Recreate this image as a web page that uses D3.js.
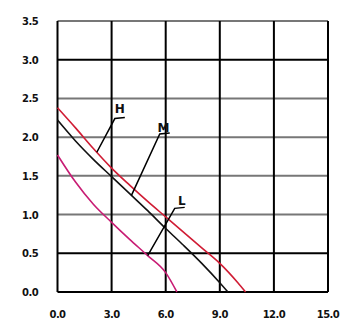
<!DOCTYPE html>
<html>
<head>
<meta charset="utf-8">
<script src="https://cdn.jsdelivr.net/npm/d3@7"></script>
<style>
  body { margin: 0; background: #fff; }
  text { font-family: "DejaVu Sans", sans-serif; font-weight: bold; fill: #111; }
</style>
</head>
<body>
<svg id="chart" width="353" height="333"></svg>
<script>
'use strict';

// axis ticks
var xTicks = [0, 3, 6, 9, 12, 15],
    yTicks = [0, 0.5, 1, 1.5, 2, 2.5, 3, 3.5],
    xTickLabels = ["0.0", "3.0", "6.0", "9.0", "12.0", "15.0"],
    yTickLabels = ["0.0", "0.5", "1.0", "1.5", "2.0", "2.5", "3.0", "3.5"];

// dark or light grid line per y tick
var yGridDark = [true, true, false, false, false, false, true, false];

// curves (flow, pressure)
var seriesNames = ["H", "M", "L"];
var hData = [[0, 2.38], [1, 2.12], [2, 1.85], [3, 1.6], [4, 1.38], [5, 1.17], [6, 0.97], [7, 0.77], [8, 0.57], [9, 0.37], [10, 0.12], [10.43, 0]];
var mData = [[0, 2.22], [1, 1.95], [2, 1.71], [3, 1.49], [4, 1.27], [5, 1.05], [6, 0.82], [7, 0.6], [8, 0.37], [9, 0.12], [9.45, 0]];
var lData = [[0, 1.77], [1, 1.42], [2, 1.13], [3, 0.9], [4, 0.68], [5, 0.47], [6, 0.25], [6.62, 0]];

// label anchors (data units) and where the leader meets the curve
var labelPos = [[3.46, 2.31], [5.87, 2.07], [6.89, 1.12]];
var leaderStart = [[3.18, 2.24], [5.67, 2.04], [6.5, 1.08]];
var leaderEndX = [2.18, 4.1, 5.0];

var svg = d3.select("#chart");

var x = d3.scaleLinear().domain([0, 15]).range([57.5, 328]),
    y = d3.scaleLinear().domain([0, 3.5]).range([292, 21]);

/* grid */
var grid = svg.append("g");
grid.selectAll("line.h")
  .data(yTicks)
  .enter().append("line")
  .attr("x1", x(0)).attr("x2", x(15))
  .attr("y1", function(d) { return y(d); })
  .attr("y2", function(d) { return y(d); })
  .style("stroke", function(d, i) { return yGridDark[i] ? "#000" : "#777"; })
  .style("stroke-width", 2);

grid.selectAll("line.v")
  .data(xTicks)
  .enter().append("line")
  .attr("y1", y(0)).attr("y2", y(3.5))
  .attr("x1", function(d) { return x(d); })
  .attr("x2", function(d) { return x(d); })
  .style("stroke", "#000")
  .style("stroke-width", 2);

/* tick labels */
svg.selectAll("text.yl")
  .data(yTicks)
  .enter().append("text")
  .attr("x", 38)
  .attr("y", function(d) { return y(d) + 4; })
  .attr("text-anchor", "end")
  .style("font-size", "10px")
  .style("letter-spacing", "-0.6px")
  .text(function(d, i) { return yTickLabels[i]; });

svg.selectAll("text.xl")
  .data(xTicks)
  .enter().append("text")
  .attr("x", function(d) { return x(d); })
  .attr("y", 318)
  .attr("text-anchor", "middle")
  .style("font-size", "10px")
  .style("letter-spacing", "-0.6px")
  .text(function(d, i) { return xTickLabels[i]; });

/* curves */
var line = d3.line()
  .x(function(d) { return x(d[0]); })
  .y(function(d) { return y(d[1]); })
  .curve(d3.curveMonotoneX);

var series = [
  { data: hData, color: "#d01c34" },
  { data: mData, color: "#111" },
  { data: lData, color: "#c81c74" }
];

svg.selectAll("path.curve")
  .data(series)
  .enter().append("path")
  .attr("d", function(d) { return line(d.data); })
  .style("fill", "none")
  .style("stroke", function(d) { return d.color; })
  .style("stroke-width", 1.6);

/* value on a series at flow v, linear between read points */
function valueAt(data, v) {
  for (var i = 1; i < data.length; i++) {
    if (v <= data[i][0]) {
      var a = data[i - 1], b = data[i], t = (v - a[0]) / (b[0] - a[0]);
      return a[1] + t * (b[1] - a[1]);
    }
  }
  return 0;
}

/* labels with leader lines */
seriesNames.forEach(function(name, i) {
  var s = leaderStart[i],
      ex = leaderEndX[i],
      ey = valueAt(series[i].data, ex),
      p0 = [x(s[0]) + 10, y(s[1]) - 1],
      p1 = [x(s[0]), y(s[1])],
      p2 = [x(ex), y(ey)];

  svg.append("path")
    .attr("d", "M" + p0 + "L" + p1 + "L" + p2)
    .style("fill", "none")
    .style("stroke", "#000")
    .style("stroke-width", 1.5);

  svg.append("text")
    .attr("x", x(labelPos[i][0]))
    .attr("y", y(labelPos[i][1]))
    .attr("text-anchor", "middle")
    .style("font-size", "12px")
    .text(name);
});
</script>
</body>
</html>
